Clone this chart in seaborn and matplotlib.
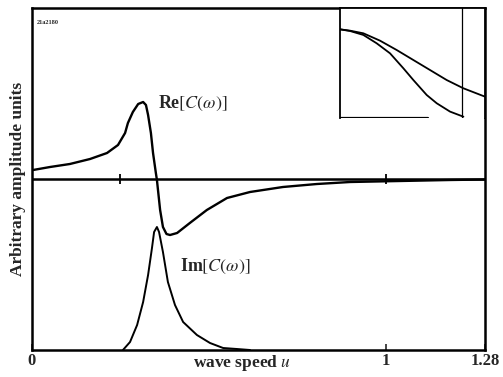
import numpy as np
import pandas as pd
import matplotlib
matplotlib.use("Agg")
import matplotlib.pyplot as plt
import seaborn as sns

# ---- data ----
re_u = [0.003, 0.051, 0.107, 0.164, 0.212, 0.243, 0.263, 0.271, 0.285, 0.300,
        0.314, 0.322, 0.328, 0.336, 0.342, 0.350, 0.353, 0.362, 0.370, 0.380,
        0.390, 0.410, 0.446, 0.494, 0.551, 0.616, 0.709, 0.805, 0.899, 1.040,
        1.181, 1.280]
re_val = [0.09, 0.12, 0.15, 0.20, 0.26, 0.34, 0.46, 0.56, 0.67, 0.75,
          0.77, 0.74, 0.64, 0.46, 0.26, 0.06, -0.01, -0.31, -0.48, -0.55,
          -0.56, -0.54, -0.44, -0.31, -0.19, -0.13, -0.08, -0.05, -0.03, -0.02,
          -0.01, -0.005]
im_u = [0.257, 0.277, 0.297, 0.314, 0.328, 0.339, 0.345, 0.353, 0.359, 0.370,
        0.384, 0.404, 0.427, 0.466, 0.503, 0.540, 0.579, 0.616]
im_val = [0.0, 0.08, 0.25, 0.48, 0.75, 1.02, 1.18, 1.23, 1.18, 0.98,
          0.68, 0.45, 0.28, 0.15, 0.07, 0.02, 0.01, 0.0]
inset_ux = [0.0, 0.069, 0.161, 0.276, 0.391, 0.506, 0.621, 0.736, 0.851, 1.0]
inset_upper = [0.806, 0.794, 0.770, 0.703, 0.618, 0.527, 0.436, 0.345, 0.270, 0.194]
inset_lx = [0.0, 0.069, 0.161, 0.253, 0.345, 0.437, 0.506, 0.598, 0.667, 0.759, 0.851]
inset_lower = [0.806, 0.791, 0.755, 0.679, 0.588, 0.452, 0.345, 0.209, 0.134, 0.058, 0.012]
inset_vline = 0.844
zero_ticks = [0.25, 1.0]
xtick_pos = [0, 1, 1.28]
xtick_lab = ["0", "1", "1.28"]

sns.set_theme(style="white")
plt.rcParams['font.family'] = ['Liberation Serif', 'DejaVu Serif']
plt.rcParams['mathtext.fontset'] = 'stix'

fig = plt.figure(figsize=(5.03, 3.77), dpi=100)
ax = fig.add_axes([32/503, 1-350/377, (485-32)/503, (350-8)/377])
ylo, yhi = -1.71, 1.71

df_re = pd.DataFrame({"u": re_u, "v": re_val})
df_im = pd.DataFrame({"u": im_u, "v": np.array(im_val) + ylo})
sns.lineplot(data=df_re, x="u", y="v", ax=ax, color="black", lw=1.7, sort=False)
sns.lineplot(data=df_im, x="u", y="v", ax=ax, color="black", lw=1.4, sort=False)
ax.axhline(0, color="black", lw=1.8)
ax.plot(zero_ticks, [0]*len(zero_ticks), ls="none", marker="|", ms=7, mew=1.3, color="black")

ax.set_xlim(0, 1.28)
ax.set_ylim(ylo, yhi)
ax.set_xticks(xtick_pos)
ax.set_xticklabels(xtick_lab, fontsize=12, fontweight="bold")
ax.tick_params(axis="x", direction="in", length=4, width=1.2, pad=2, bottom=True)
ax.set_yticks([])
for s in ax.spines.values():
    s.set_color("black")
    s.set_linewidth(1.8)
ax.set_xlabel("")
ax.set_ylabel("Arbitrary amplitude units", fontsize=12.5, fontweight="bold", labelpad=4)
ax.text(0.464, -0.009, r"wave speed $u$", transform=ax.transAxes, ha="center", va="top",
        fontsize=12.5, fontweight="bold")
ax.text(0.356, 0.76, r"Re$[C(\omega)]$", fontsize=13, fontweight="bold", va="center", ha="left")
ax.text(0.418, -0.87, r"Im$[C(\omega)]$", fontsize=13, fontweight="bold", va="center", ha="left")
ax.text(0.01, 0.965, "21a2180", transform=ax.transAxes, fontsize=4.5, fontweight="bold",
        va="top", ha="left")

# inset
ins = fig.add_axes([340/503, 1-118/377, (485-340)/503, (118-8)/377])
sns.lineplot(x=inset_ux, y=inset_upper, ax=ins, color="black", lw=1.3)
sns.lineplot(x=inset_lx, y=inset_lower, ax=ins, color="black", lw=1.3)
ins.axvline(inset_vline, color="black", lw=0.9)
ins.set_xlim(0, 1)
ins.set_ylim(0, 1)
ins.set_xticks([])
ins.set_yticks([])
for s in ins.spines.values():
    s.set_color("black")
    s.set_linewidth(1.3)
ins.spines["bottom"].set_visible(False)
ins.axhline(0, xmin=0, xmax=0.61, color="black", lw=1.6)

fig.savefig("out.png", dpi=100)
